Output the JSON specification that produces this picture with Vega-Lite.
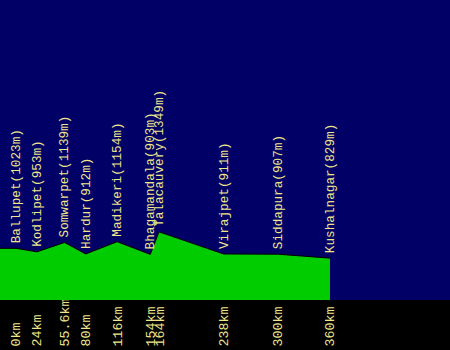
{
  "$schema": "https://vega.github.io/schema/vega-lite/v6.json",
  "width": 450,
  "height": 300,
  "autosize": {"type": "none"},
  "padding": {"left": 0, "top": 0, "right": 0, "bottom": 50},
  "background": "#000000",
  "config": {"view": {"fill": "#000066", "stroke": null}},
  "data": {
    "values": [
      {"km": -18.3, "elev": 1023, "label": ""},
      {"km": 0, "elev": 1023, "label": "Ballupet(1023m)"},
      {"km": 24, "elev": 953, "label": "Kodlipet(953m)"},
      {"km": 55.6, "elev": 1139, "label": "Somwarpet(1139m)"},
      {"km": 80, "elev": 912, "label": "Hardur(912m)"},
      {"km": 116, "elev": 1154, "label": "Madikeri(1154m)"},
      {"km": 154, "elev": 903, "label": "Bhagamandala(903m)"},
      {"km": 164, "elev": 1349, "label": "Talacauvery(1349m)"},
      {"km": 238, "elev": 911, "label": "Virajpet(911m)"},
      {"km": 300, "elev": 907, "label": "Siddapura(907m)"},
      {"km": 360, "elev": 829, "label": "Kushalnagar(829m)"}
    ]
  },
  "encoding": {
    "x": {
      "field": "km",
      "type": "quantitative",
      "scale": {"domain": [-18.3, 497.6], "nice": false, "zero": false},
      "axis": {
        "values": [0, 24, 55.6, 80, 116, 154, 164, 238, 300, 360],
        "labelExpr": "datum.value + 'km'",
        "labelAngle": 270,
        "labelAlign": "left",
        "labelBaseline": "middle",
        "labelPadding": 46,
        "ticks": false,
        "tickSize": 0,
        "domain": false,
        "grid": false,
        "labelOverlap": false,
        "labelFlush": false,
        "labelBound": false,
        "labelColor": "#f0e68c",
        "labelFont": "Liberation Mono",
        "labelFontSize": 13.3,
        "title": null
      }
    },
    "y": {
      "field": "elev",
      "type": "quantitative",
      "scale": {"domain": [0, 5940], "nice": false},
      "axis": null
    }
  },
  "layer": [
    {
      "mark": {"type": "area", "color": "#00cc00", "opacity": 1, "line": {"color": "#000000", "strokeWidth": 1}}
    },
    {
      "transform": [{"filter": "datum.label != ''"}],
      "mark": {
        "type": "text",
        "angle": 270,
        "align": "left",
        "baseline": "middle",
        "dx": 5,
        "font": "Liberation Mono",
        "fontSize": 12.7,
        "color": "#f0e68c"
      },
      "encoding": {"text": {"field": "label"}}
    }
  ]
}
